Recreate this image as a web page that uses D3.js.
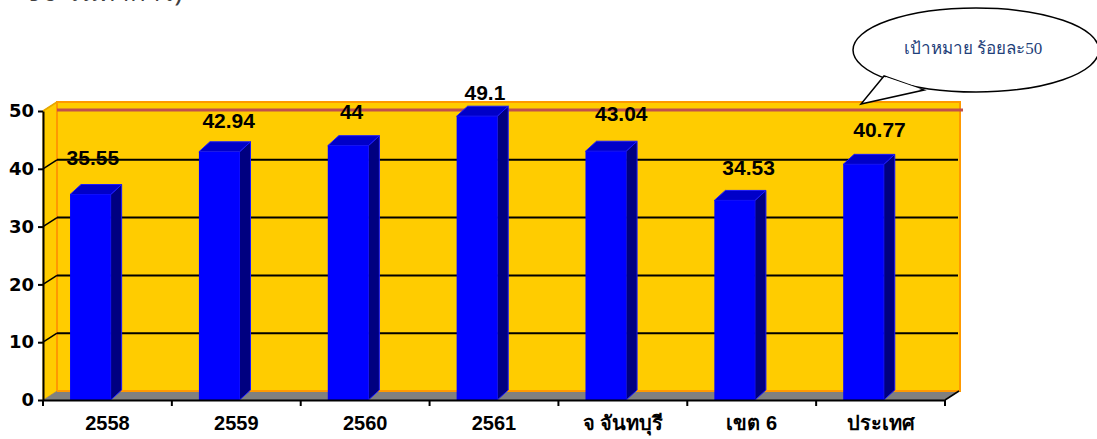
<!DOCTYPE html>
<html>
<head>
<meta charset="utf-8">
<script src="https://cdn.jsdelivr.net/npm/d3@7"></script>
<style>
  body { margin: 0; background: #fff; }
  svg { display: block; }
</style>
</head>
<body>
<div id="chart"></div>
<script>
// data
var categories = ["2558", "2559", "2560", "2561", "จ จันทบุรี", "เขต 6", "ประเทศ"];
var values = [35.55, 42.94, 44, 49.1, 43.04, 34.53, 40.77];
var yTicks = [0, 10, 20, 30, 40, 50];
var targetText = "เป้าหมาย ร้อยละ50";

// small nudges for the value labels (they were placed by hand in the original)
var labelDx = [-5.5, 1.5, -4.5, 0, 7.5, 6, 8];
var labelDy = [-2.5, 3, 0, 11, -3, 2, 0];

var w = 1097, h = 439;
var depth = { dx: 14, dy: -9 },   // back wall offset
    barDepth = { dx: 11, dy: -10 };

var svg = d3.select("#chart")
    .append("svg")
    .attr("width", w)
    .attr("height", h);

var x = d3.scaleBand().domain(categories).range([43, 945]).padding(0);
var y = d3.scaleLinear().domain([0, 50]).range([400, 111]);
var bw = x.bandwidth();

// heading text, cut off at the very top like in the source
svg.append("text")
    .attr("x", 28)
    .attr("y", 1)
    .style("font-family", "'Noto Sans', sans-serif")
    .style("font-size", "26px")
    .style("fill", "#404040")
    .text("90 วันทำการ)");

// side wall (left)
svg.append("polygon")
    .attr("points", [
        [43, y(0)], [43 + depth.dx, y(0) + depth.dy],
        [43 + depth.dx, y(50) + depth.dy], [43, y(50)]
    ].join(" "))
    .style("fill", "#ffcc00")
    .style("stroke", "#e6a800")
    .style("stroke-width", 1);

// back wall
svg.append("rect")
    .attr("x", 43 + depth.dx)
    .attr("y", y(50) + depth.dy)
    .attr("width", 945 - 43 + 1)
    .attr("height", y(0) - y(50))
    .style("fill", "#ffcc00")
    .style("stroke", "#ff9900")
    .style("stroke-width", 2);

// floor
svg.append("polygon")
    .attr("points", [
        [43, y(0)], [945, y(0)],
        [945 + depth.dx, y(0) + depth.dy], [43 + depth.dx, y(0) + depth.dy]
    ].join(" "))
    .style("fill", "#808080");

svg.append("line")
    .attr("x1", 43 + depth.dx).attr("x2", 945 + depth.dx)
    .attr("y1", y(0) + depth.dy).attr("y2", y(0) + depth.dy)
    .style("stroke", "#ff9900").style("stroke-width", 2);

// gridlines on back wall + diagonals on side wall
var grid = svg.append("g");
grid.selectAll(".grid")
    .data(yTicks.filter(function(d) { return d > 0 && d < 50; }))
    .enter().append("line")
    .attr("x1", 43 + depth.dx)
    .attr("x2", 945 + depth.dx - 1)
    .attr("y1", function(d) { return y(d) + depth.dy; })
    .attr("y2", function(d) { return y(d) + depth.dy; })
    .style("stroke", "#000")
    .style("stroke-width", 2);
grid.selectAll(".diag")
    .data(yTicks.filter(function(d) { return d > 0 && d < 50; }))
    .enter().append("line")
    .attr("x1", 43)
    .attr("x2", 43 + depth.dx)
    .attr("y1", function(d) { return y(d); })
    .attr("y2", function(d) { return y(d) + depth.dy; })
    .style("stroke", "#000")
    .style("stroke-width", 1.5);
grid.append("line")
    .attr("x1", 43).attr("x2", 43 + depth.dx)
    .attr("y1", y(50)).attr("y2", y(50) + depth.dy)
    .style("stroke", "#e6a800").style("stroke-width", 1.5);

// red target line
svg.append("line")
    .attr("x1", 43 + depth.dx)
    .attr("x2", 963)
    .attr("y1", 110)
    .attr("y2", 110)
    .style("stroke", "#c0504d")
    .style("stroke-width", 3);

// 3d bars
var bars = svg.append("g").selectAll(".bar")
    .data(values)
    .enter().append("g")
    .attr("class", "bar");

function barX(i) { return x(categories[i]) + bw * 0.21; }
var barW = bw * 0.315;

bars.append("polygon") // side face
    .attr("points", function(d, i) {
        var x1 = barX(i) + barW;
        return [[x1, y(d)], [x1 + barDepth.dx, y(d) + barDepth.dy],
            [x1 + barDepth.dx, y(0) + barDepth.dy], [x1, y(0)]].join(" ");
    })
    .style("fill", "#000080")
    .style("stroke", "#1a1aff")
    .style("stroke-width", 1);

bars.append("polygon") // top face
    .attr("points", function(d, i) {
        var x0 = barX(i), x1 = x0 + barW;
        return [[x0, y(d)], [x0 + barDepth.dx, y(d) + barDepth.dy],
            [x1 + barDepth.dx, y(d) + barDepth.dy], [x1, y(d)]].join(" ");
    })
    .style("fill", "#0000c8")
    .style("stroke", "#1a1aff")
    .style("stroke-width", 1);

bars.append("rect") // front face
    .attr("x", function(d, i) { return barX(i); })
    .attr("y", function(d) { return y(d); })
    .attr("width", barW)
    .attr("height", function(d) { return y(0) - y(d); })
    .style("fill", "#0000ff");

// value labels
svg.append("g").selectAll(".lbl")
    .data(values)
    .enter().append("text")
    .attr("x", function(d, i) { return barX(i) + barW / 2 + 8 + labelDx[i]; })
    .attr("y", function(d, i) { return y(d) - 27 + labelDy[i]; })
    .attr("text-anchor", "middle")
    .style("font-family", "'Liberation Sans', Arial, sans-serif")
    .style("font-weight", "bold")
    .style("font-size", "21px")
    .style("fill", "#000")
    .text(function(d) { return d; });

// y axis
var yAxis = svg.append("g")
    .attr("transform", "translate(43,0)")
    .call(d3.axisLeft(y).tickValues(yTicks).tickSize(5).tickPadding(4).tickSizeOuter(0));
yAxis.select(".domain").style("stroke", "#000").style("stroke-width", 2);
yAxis.selectAll(".tick line").style("stroke", "#000").style("stroke-width", 2);
yAxis.selectAll(".tick text")
    .style("font-family", "'DejaVu Sans', sans-serif")
    .style("font-weight", "bold")
    .style("font-size", "18px")
    .style("fill", "#000");

// x axis
var xAxis = svg.append("g")
    .attr("transform", "translate(0," + y(0) + ")")
    .call(d3.axisBottom(x).tickSize(0).tickPadding(16));
xAxis.select(".domain").style("stroke", "#000").style("stroke-width", 2);
xAxis.selectAll(".tick text")
    .style("font-family", "Tahoma, 'Liberation Sans', Arial, sans-serif")
    .style("font-weight", "bold")
    .style("font-size", "20px")
    .style("fill", "#000");
xAxis.selectAll(".sep")
    .data(d3.range(categories.length + 1))
    .enter().append("line")
    .attr("x1", function(i) { return 43 + i * bw; })
    .attr("x2", function(i) { return 43 + i * bw; })
    .attr("y1", 0).attr("y2", 6)
    .style("stroke", "#000").style("stroke-width", 2);
xAxis.append("line")
    .attr("x1", 945).attr("y1", 0)
    .attr("x2", 945 + depth.dx).attr("y2", depth.dy)
    .style("stroke", "#000").style("stroke-width", 1.5);

// callout bubble
var bubble = svg.append("g");
bubble.append("ellipse")
    .attr("cx", 976).attr("cy", 50)
    .attr("rx", 123).attr("ry", 42)
    .style("fill", "#fff")
    .style("stroke", "#000")
    .style("stroke-width", 1.5);
bubble.append("polygon")
    .attr("points", "884,76 861,104 924,90")
    .style("fill", "#fff")
    .style("stroke", "#000")
    .style("stroke-width", 1.5);
bubble.append("path") // hide the ellipse edge inside the tail
    .attr("d", "M886,77 L866,100 L921,89 Z")
    .style("fill", "#fff");
bubble.append("text")
    .attr("x", 973).attr("y", 54)
    .attr("text-anchor", "middle")
    .style("font-family", "'Liberation Serif', 'DejaVu Serif', serif")
    .style("font-size", "17px")
    .style("fill", "#1f3f7a")
    .text(targetText);
</script>
</body>
</html>
